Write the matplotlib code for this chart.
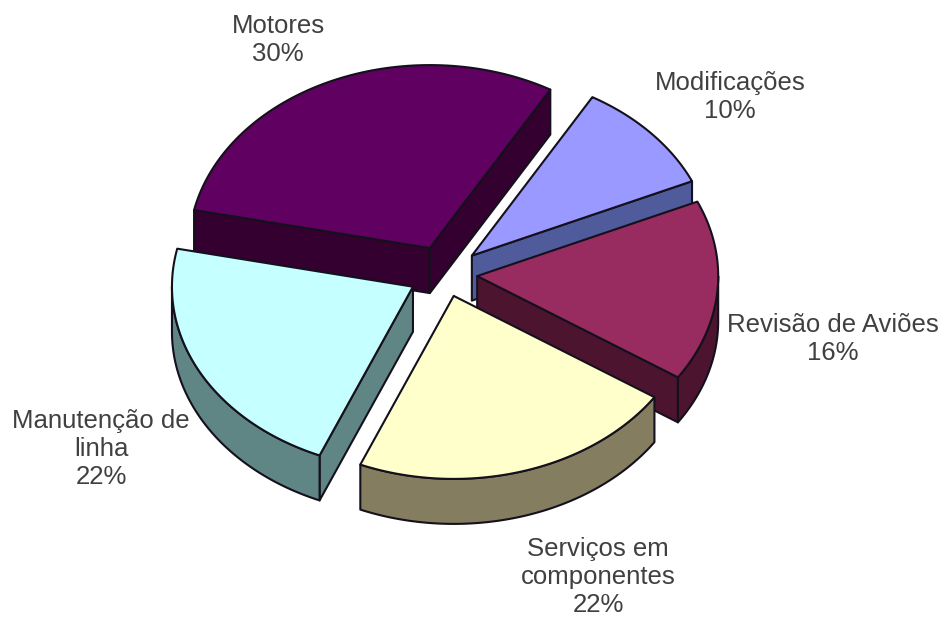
import numpy as np
import matplotlib
matplotlib.use("Agg")
import matplotlib.pyplot as plt
from matplotlib.patches import Polygon

# Share of each activity, in percent, clockwise from the first slice
categories = ["Motores", "Modificações", "Revisão de Aviões",
              "Serviços em\ncomponentes", "Manutenção de\nlinha"]
shares = [30, 10, 16, 22, 22]

top_colors = ["#600060", "#9999ff", "#982c60", "#ffffcc", "#c6ffff"]
side_colors = ["#330030", "#4f5b9a", "#4d1430", "#857d60", "#5f8585"]
explode = [0.155, 0.15, 0.134, 0.125, 0.15]

label_centers = [(278, 40), (730, 97), (833, 339), (598, 577), (101, 449)]
draw_order = [0, 1, 4, 2, 3]

# Projection of the tilted pie, in pixel units
CX, CY = 445, 274
RX, RY = 241, 183
DEPTH = 45
START = -78.0

fig = plt.figure(figsize=(9.42, 6.19), dpi=100, facecolor="white")
ax = fig.add_axes([0, 0, 1, 1])
ax.set_xlim(0, 942)
ax.set_ylim(619, 0)
ax.axis("off")

plt.rcParams["font.family"] = ["Liberation Sans", "DejaVu Sans"]


def rim(theta, tip):
    """Points on the slice's upper rim for clockwise-from-top angles."""
    t = np.radians(theta)
    return np.column_stack((tip[0] + RX * np.sin(t), tip[1] - RY * np.cos(t)))


def face(points, color, z):
    ax.add_patch(Polygon(points, closed=True, facecolor=color, edgecolor="#14101c",
                         linewidth=1.5, joinstyle="round", zorder=z))


drop = np.array([0, DEPTH])
edges = START + np.concatenate(([0], np.cumsum(shares))) * 3.6

for z, i in enumerate(draw_order):
    a0, a1 = edges[i], edges[i + 1]
    mid = np.radians((a0 + a1) / 2)
    tip = np.array([CX + explode[i] * RX * np.sin(mid),
                    CY - explode[i] * RY * np.cos(mid)])
    zb = z * 10

    # Straight cut walls, drawn only when they turn toward the viewer
    for angle, normal in ((a0, a0 - 90), (a1, a1 + 90)):
        if np.cos(np.radians(normal)) < 0:
            outer = rim(np.array([angle]), tip)[0]
            face([tip, outer, outer + drop, tip + drop], side_colors[i], zb + 1)

    # Curved outer wall on the front half of the ellipse
    for lo, hi in ((a0, a1), (a0 + 360, a1 + 360), (a0 - 360, a1 - 360)):
        w0, w1 = max(lo, 90), min(hi, 270)
        if w1 > w0:
            arc = rim(np.linspace(w0, w1, 80), tip)
            face(np.vstack((arc, (arc + drop)[::-1])), side_colors[i], zb + 2)

    # Top surface
    arc = rim(np.linspace(a0, a1, 120), tip)
    face(np.vstack(([tip], arc)), top_colors[i], zb + 3)

for name, share, (x, y) in zip(categories, shares, label_centers):
    ax.text(x, y, f"{name}\n{share}%", ha="center", va="center", ma="center",
            fontsize=18.5, color="#404040", linespacing=1.22, zorder=100,
            family=["Liberation Sans", "DejaVu Sans"])

fig.savefig("out.png", dpi=100)
